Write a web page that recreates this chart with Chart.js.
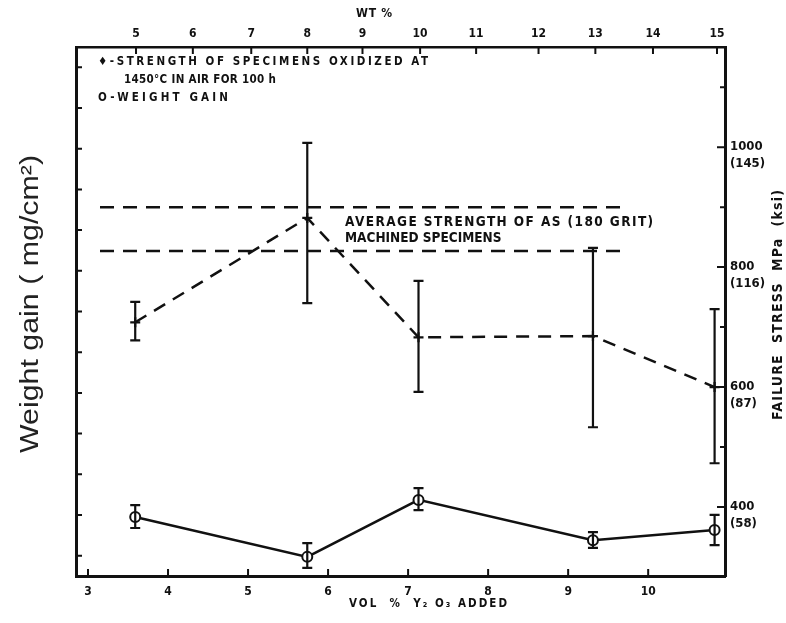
<!DOCTYPE html>
<html>
<head>
<meta charset="utf-8">
<script src="https://cdn.jsdelivr.net/npm/chart.js@4.4.1/dist/chart.umd.min.js"></script>
<style>
html,body{margin:0;padding:0;background:#fff;}
#wrap{position:relative;width:786px;height:623px;}
</style>
</head>
<body>
<div id="wrap"><canvas id="c" width="786" height="623"></canvas></div>
<script>
// ---- data ----
const volTicks = [3, 4, 5, 6, 7, 8, 9, 10];                 // bottom axis, vol % Y2O3
const wtTicks = [5, 6, 7, 8, 9, 10, 11, 12, 13, 14, 15];    // top axis, wt %
const wtAtVol = [3.60, 4.31, 5.04, 5.74, 6.43, 7.15, 7.85, 8.63, 9.34, 10.06, 10.86];
const sampleVol = [3.59, 5.74, 7.13, 9.31, 10.83];
const strength = [708, 882, 683, 685, 600];                  // MPa
const strengthHi = [742, 1007, 777, 832, 730];
const strengthLo = [678, 740, 592, 533, 473];
const weightGain = [1.45, 0.47, 1.87, 0.88, 1.13];           // mg/cm2
const weightGainHi = [1.74, 0.81, 2.16, 1.08, 1.50];
const weightGainLo = [1.18, 0.20, 1.62, 0.69, 0.76];
const avgStrength = [900, 827];                              // as-machined average band
const avgSpan = [3.15, 9.72];
const stressTicks = [400, 500, 600, 700, 800, 900, 1000, 1100];
const stressMajor = [400, 600, 800, 1000];
const ksiLabels = ['(58)', '(87)', '(116)', '(145)'];
const weightTicks = [0.5, 1.5, 2.5, 3.5, 4.5, 5.5, 6.5, 7.5, 8.5, 9.5, 10.5, 11.5, 12.5];

const FONT = "'DejaVu Sans Condensed','DejaVu Sans',sans-serif";
const INK = '#111';

const datasets = [
  {
    label: 'Strength', xAxisID: 'x', yAxisID: 'y2',
    data: sampleVol.map((v, i) => ({x: v, y: strength[i]})),
    showLine: true, borderColor: INK, borderWidth: 2.5, borderDash: [13, 9],
    pointStyle: 'cross', pointRadius: 5, pointBorderWidth: 2.2, pointBorderColor: INK,
    errHi: strengthHi, errLo: strengthLo, cap: 5
  },
  {
    label: 'Weight gain', xAxisID: 'x', yAxisID: 'y',
    data: sampleVol.map((v, i) => ({x: v, y: weightGain[i]})),
    showLine: true, borderColor: INK, borderWidth: 2.5,
    pointStyle: 'circle', pointRadius: 5, pointBorderWidth: 2, pointBorderColor: INK,
    pointBackgroundColor: '#fff',
    errHi: weightGainHi, errLo: weightGainLo, cap: 5
  }
];
avgStrength.forEach((s, k) => datasets.push({
  label: 'Average ' + k, xAxisID: 'x', yAxisID: 'y2',
  data: avgSpan.map(v => ({x: v, y: s})),
  showLine: true, borderColor: INK, borderWidth: 2.5, borderDash: [14, 9],
  pointRadius: 0
}));

const fixSize = (prop, val) => (scale) => { scale[prop] = val; };

// draw text stretched (by letter spacing) to a given width, starting at x
function fitText(ctx, text, x, y, w) {
  ctx.letterSpacing = '0px';
  const m = ctx.measureText(text).width;
  const ls = Math.max(0, (w - m) / Math.max(1, text.length - 1));
  ctx.letterSpacing = ls.toFixed(2) + 'px';
  ctx.textAlign = 'left';
  ctx.fillText(text, x, y);
  ctx.letterSpacing = '0px';
}

const decor = {
  id: 'decor',
  afterDatasetsDraw(chart) {
    const ctx = chart.ctx;
    const {x, x2, y, y2} = chart.scales;
    const area = chart.chartArea;
    ctx.save();
    ctx.strokeStyle = INK;
    ctx.fillStyle = INK;
    // error bars
    chart.data.datasets.forEach(ds => {
      if (!ds.errHi) return;
      const ys = chart.scales[ds.yAxisID];
      ds.data.forEach((p, i) => {
        const px = x.getPixelForValue(p.x);
        const top = ys.getPixelForValue(ds.errHi[i]);
        const bot = ys.getPixelForValue(ds.errLo[i]);
        ctx.lineWidth = 2.2;
        ctx.beginPath();
        ctx.moveTo(px, top); ctx.lineTo(px, bot);
        ctx.moveTo(px - ds.cap, top); ctx.lineTo(px + ds.cap, top);
        ctx.moveTo(px - ds.cap, bot); ctx.lineTo(px + ds.cap, bot);
        ctx.stroke();
      });
    });
    // inward tick marks
    ctx.lineWidth = 2;
    ctx.beginPath();
    x.ticks.forEach(t => { const p = x.getPixelForValue(t.value); ctx.moveTo(p, area.bottom); ctx.lineTo(p, area.bottom - 7); });
    x2.ticks.forEach(t => { const p = x2.getPixelForValue(t.value); ctx.moveTo(p, area.top); ctx.lineTo(p, area.top + 7); });
    y.ticks.forEach(t => { const p = y.getPixelForValue(t.value); ctx.moveTo(area.left, p); ctx.lineTo(area.left + 6, p); });
    y2.ticks.forEach(t => { const p = y2.getPixelForValue(t.value); ctx.moveTo(area.right, p); ctx.lineTo(area.right - (stressMajor.includes(t.value) ? 8 : 5), p); });
    ctx.stroke();

    // texts
    ctx.textBaseline = 'middle';
    ctx.font = "bold 11.5px " + FONT;
    fitText(ctx, '\u2666-STRENGTH OF SPECIMENS OXIDIZED AT', 98, 62, 330);
    fitText(ctx, '1450°C IN AIR FOR 100 h', 124, 80, 152);
    fitText(ctx, 'O-WEIGHT GAIN', 98, 98, 130);
    ctx.font = "bold 13.5px " + FONT;
    fitText(ctx, 'AVERAGE STRENGTH OF AS (180 GRIT)', 345, 222, 308);
    fitText(ctx, 'MACHINED SPECIMENS', 345, 238, 0);

    ctx.font = "bold 12px " + FONT;
    fitText(ctx, 'WT %', 356, 14, 36);
    ctx.font = "bold 11.5px " + FONT;
    fitText(ctx, 'VOL  %  Y\u2082 O\u2083 ADDED', 349, 604, 158);

    // rotated titles
    ctx.save();
    ctx.translate(778, 420);
    ctx.rotate(-Math.PI / 2);
    ctx.font = "bold 14px " + FONT;
    fitText(ctx, 'FAILURE  STRESS  MPa  (ksi)', 0, 0, 230);
    ctx.restore();

    ctx.save();
    ctx.translate(38, 304);
    ctx.rotate(-Math.PI / 2);
    ctx.font = "25px 'Liberation Sans', Arial, sans-serif";
    const title = 'Weight gain ( mg/cm\u00b2)';
    const tw = ctx.measureText(title).width;
    ctx.scale(298 / tw, 1);
    ctx.fillStyle = '#222';
    ctx.textAlign = 'center';
    ctx.textBaseline = 'alphabetic';
    ctx.fillText(title, 0, 0);
    ctx.restore();

    ctx.restore();
  }
};

new Chart(document.getElementById('c'), {
  type: 'scatter',
  data: {datasets},
  options: {
    responsive: false,
    animation: false,
    events: [],
    layout: {padding: 0},
    plugins: {legend: {display: false}, tooltip: {enabled: false}, title: {display: false}},
    scales: {
      x: {
        type: 'linear', position: 'bottom', min: 2.85, max: 10.96,
        afterBuildTicks: (s) => { s.ticks = volTicks.map(v => ({value: v})); },
        afterFit: fixSize('height', 47),
        grid: {display: false, drawTicks: false},
        border: {display: true, color: INK, width: 3},
        ticks: {color: INK, padding: 9, maxRotation: 0, font: {family: FONT, size: 12, weight: 'bold'},
                callback: (v) => String(v)}
      },
      x2: {
        type: 'linear', position: 'top', min: 2.85, max: 10.96,
        afterBuildTicks: (s) => { s.ticks = wtAtVol.map(v => ({value: v})); },
        afterFit: fixSize('height', 47),
        grid: {display: false, drawTicks: false},
        border: {display: true, color: INK, width: 2.5},
        ticks: {color: INK, padding: 6, maxRotation: 0, font: {family: FONT, size: 12, weight: 'bold'},
                callback: (v, i) => String(wtTicks[i])}
      },
      y: {
        type: 'linear', position: 'left', min: 0, max: 13,
        afterBuildTicks: (s) => { s.ticks = weightTicks.map(v => ({value: v})); },
        afterFit: fixSize('width', 76),
        grid: {display: false, drawTicks: false},
        border: {display: true, color: INK, width: 3},
        ticks: {display: false}
      },
      y2: {
        type: 'linear', position: 'right', min: 285, max: 1167,
        afterBuildTicks: (s) => { s.ticks = stressTicks.map(v => ({value: v})); },
        afterFit: fixSize('width', 61),
        grid: {display: false, drawTicks: false},
        border: {display: true, color: INK, width: 3},
        ticks: {color: INK, padding: 5, labelOffset: 8, font: {family: FONT, size: 13, weight: 'bold', lineHeight: 1.25},
                callback: (v) => { const k = stressMajor.indexOf(v); return k < 0 ? '' : [String(v), ksiLabels[k]]; }}
      }
    }
  },
  plugins: [decor]
});
</script>
</body>
</html>
